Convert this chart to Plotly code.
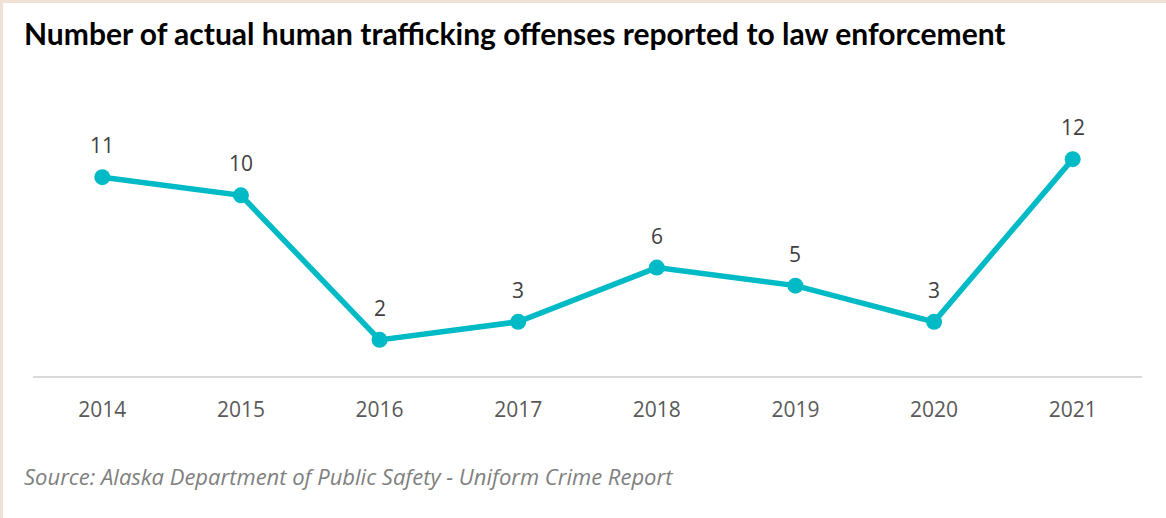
import plotly.graph_objects as go

years = ["2014", "2015", "2016", "2017", "2018", "2019", "2020", "2021"]
offenses = [11, 10, 2, 3, 6, 5, 3, 12]

title_text = "Number of actual human trafficking offenses reported to law enforcement"
source_text = "Source: Alaska Department of Public Safety - Uniform Crime Report"

W, H = 1166, 518
ML, MR, MT, MB = 33, 24, 123, 142
PW = W - ML - MR
PH = H - MT - MB

line_color = "#00BAC6"

fig = go.Figure()
fig.add_trace(go.Scatter(
    x=years, y=offenses, mode="lines+markers",
    line=dict(color=line_color, width=5.5),
    marker=dict(color=line_color, size=16),
    hoverinfo="skip", showlegend=False,
))

annotations = []
for i, v in enumerate(offenses):
    annotations.append(dict(
        x=i, y=v, xref="x", yref="y", text=str(v), showarrow=False,
        yshift=32, yanchor="middle",
        font=dict(family="Open Sans", size=21, color="#404040"),
    ))

annotations.append(dict(
    x=(22 - ML) / PW, y=(H - 33 - MB) / PH, xref="paper", yref="paper",
    xanchor="left", yanchor="middle", showarrow=False,
    text="<b>" + title_text + "</b>",
    font=dict(family="Lato", size=30, color="#000000"),
))
annotations.append(dict(
    x=(22 - ML) / PW, y=(H - 476 - MB) / PH, xref="paper", yref="paper",
    xanchor="left", yanchor="middle", showarrow=False,
    text="<i>" + source_text + "</i>",
    font=dict(family="Open Sans", size=22, color="#7F7F7F"),
))

shapes = [
    # beige frame on top and left edges
    dict(type="rect", xref="paper", yref="paper", layer="above",
         x0=-ML / PW, x1=(W - ML) / PW, y0=(H - 3 - MB) / PH, y1=(H - MB) / PH,
         fillcolor="#EFE2D5", line=dict(width=0)),
    dict(type="rect", xref="paper", yref="paper", layer="above",
         x0=-ML / PW, x1=(3 - ML) / PW, y0=-MB / PH, y1=(H - MB) / PH,
         fillcolor="#EFE2D5", line=dict(width=0)),
]

fig.update_layout(
    width=W, height=H,
    margin=dict(l=ML, r=MR, t=MT, b=MB),
    paper_bgcolor="white", plot_bgcolor="white",
    annotations=annotations, shapes=shapes,
    xaxis=dict(
        type="category", range=[-0.5, 7.5], showgrid=False,
        showline=True, linecolor="#D9D9D9", linewidth=2,
        ticks="", ticklabelstandoff=14,
        tickfont=dict(family="Open Sans", size=21, color="#595959"),
        fixedrange=True,
    ),
    yaxis=dict(range=[0, 14], showgrid=False, showticklabels=False,
               zeroline=False, showline=False, fixedrange=True),
)

fig.write_html(
    "out.html",
    config={"displayModeBar": False},
    post_script="document.body.style.margin='0';document.body.style.overflow='hidden';",
)
